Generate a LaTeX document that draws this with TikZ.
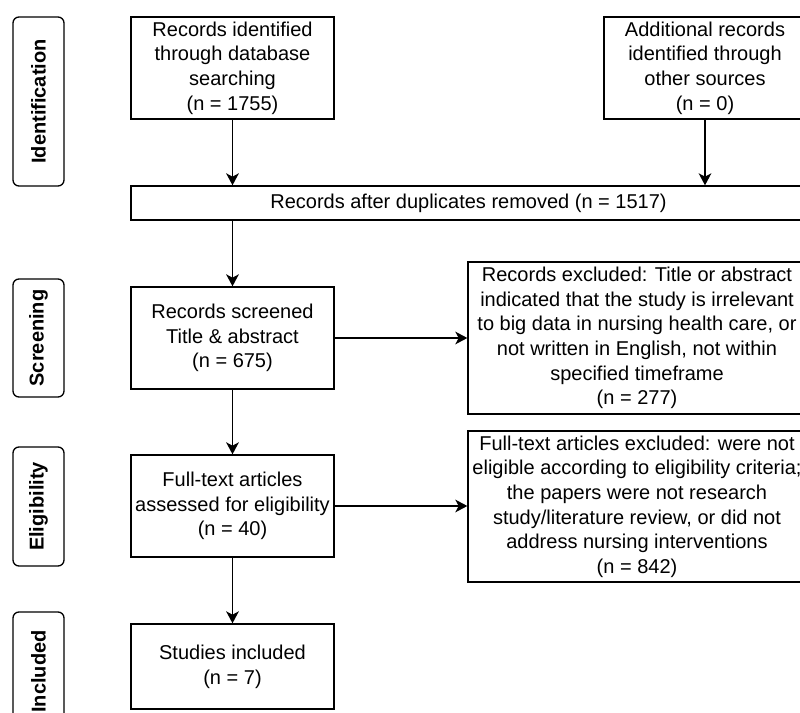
\documentclass[tikz,border=0pt]{standalone}
\usepackage{fontspec}
\setmainfont{Liberation Sans}
\usetikzlibrary{arrows.meta}
\tikzset{
  box/.style={draw=black, line width=1pt, rectangle, inner sep=0pt, align=center,
    font=\fontsize{15}{18.5}\selectfont},
  stage/.style={draw=black, line width=1pt, rectangle, rounded corners=4.5pt, inner sep=0pt,
    rotate=90, minimum height=38.25pt, font=\fontsize{15}{18.5}\selectfont\bfseries},
  arr/.style={draw=black, line width=1pt, -{Stealth[length=9pt, width=9.5pt, inset=2.5pt]}}
}
\begin{document}
\begin{tikzpicture}[x=0.75pt, y=-0.75pt]
\useasboundingbox (0,0) rectangle (800,713);
\fill[white] (0,0) rectangle (800,713);
\clip (0,0) rectangle (800,713);

% stage labels
\node[stage, minimum width=126.75pt] (idlab) at (38.5,101.5) {Identification};
\node[stage, minimum width=88.5pt] (scrlab) at (38.5,338) {Screening};
\node[stage, minimum width=89.25pt] (elilab) at (38.5,506.5) {Eligibility};
\node[stage, minimum width=89.25pt] (inclab) at (38.5,671.5) {Included};

% boxes
\node[box, minimum width=152.25pt, minimum height=76.5pt] (b1) at (232.5,68)
  {Records identified\\through database\\searching\\(n = 1755)};
\node[box, minimum width=151.5pt, minimum height=76.5pt] (b2) at (705,68)
  {Additional records\\identified through\\other sources\\(n = 0)};
\node[box, minimum width=506.25pt, minimum height=25.5pt] (dedup) at (468.5,203)
  {Records after duplicates removed (n = 1517)};
\node[box, minimum width=152.25pt, minimum height=76.5pt] (scr) at (232.5,338)
  {Records screened\\Title \& abstract\\(n = 675)};
\node[box, minimum width=253.5pt, minimum height=114pt] (ex1) at (637,338)
  {Records excluded: Title or abstract\\indicated that the study is irrelevant\\to big data in nursing health care, or\\not written in English, not within\\specified timeframe\\(n = 277)};
\node[box, minimum width=152.25pt, minimum height=76.5pt] (ft) at (232.5,506)
  {Full-text articles\\assessed for eligibility\\(n = 40)};
\node[box, minimum width=253.5pt, minimum height=113.25pt] (ex2) at (637,506.5)
  {Full-text articles excluded: were not\\eligible according to eligibility criteria;\\the papers were not research\\study/literature review, or did not\\address nursing interventions\\(n = 842)};
\node[box, minimum width=152.25pt, minimum height=63.75pt] (st) at (232.5,666.5)
  {Studies included\\(n = 7)};

% connectors
\draw[arr] (b1.south) -- (b1.south |- dedup.north);
\draw[arr] (b2.south) -- (b2.south |- dedup.north);
\draw[arr] (dedup.south -| scr.north) -- (scr.north);
\draw[arr] (scr.east) -- (scr.east -| ex1.west);
\draw[arr] (scr.south) -- (ft.north);
\draw[arr] (ft.east) -- (ft.east -| ex2.west);
\draw[arr] (ft.south) -- (st.north);
\end{tikzpicture}
\end{document}
